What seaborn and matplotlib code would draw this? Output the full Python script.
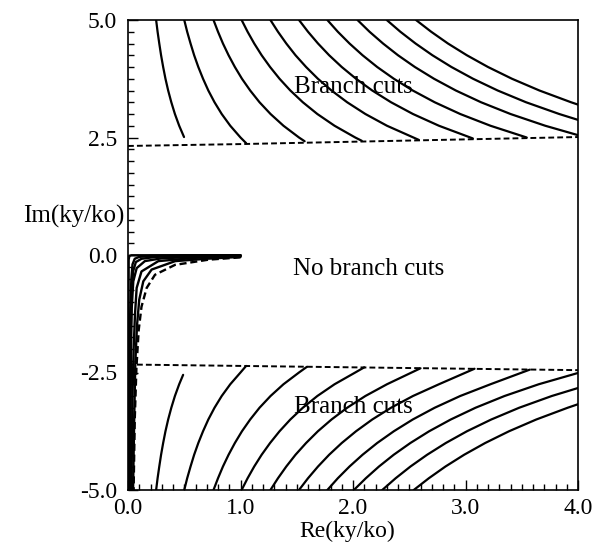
import numpy as np
import pandas as pd
import matplotlib
matplotlib.use("Agg")
import matplotlib.pyplot as plt
import seaborn as sns

# ---------------- data ----------------
# upper family of branch-cut curves (Im > 0)
upper_x = [
    [0.25, 0.263, 0.278, 0.294, 0.3125, 0.333, 0.357, 0.385, 0.417, 0.455, 0.498],
    [0.50, 0.526, 0.556, 0.588, 0.625, 0.667, 0.714, 0.769, 0.833, 0.909, 1.0, 1.05],
    [0.76, 0.80, 0.844, 0.894, 0.95, 1.013, 1.086, 1.169, 1.267, 1.382, 1.52, 1.57],
    [1.01, 1.063, 1.122, 1.188, 1.263, 1.347, 1.443, 1.554, 1.683, 1.836, 2.02, 2.078],
    [1.266, 1.333, 1.407, 1.489, 1.583, 1.688, 1.809, 1.948, 2.11, 2.302, 2.584],
    [1.52, 1.60, 1.689, 1.788, 1.90, 2.027, 2.171, 2.338, 2.533, 2.764, 3.065],
    [1.772, 1.865, 1.969, 2.085, 2.215, 2.363, 2.531, 2.726, 2.953, 3.222, 3.544],
    [2.04, 2.147, 2.267, 2.40, 2.55, 2.72, 2.914, 3.138, 3.40, 3.709, 4.0],
    [2.30, 2.421, 2.556, 2.706, 2.875, 3.067, 3.286, 3.538, 3.833, 4.0],
    [2.56, 2.695, 2.844, 3.012, 3.20, 3.413, 3.657, 3.938, 4.0],
]
upper_y = [
    [5.0, 4.75, 4.5, 4.25, 4.0, 3.75, 3.5, 3.25, 3.0, 2.75, 2.51],
    [5.0, 4.75, 4.5, 4.25, 4.0, 3.75, 3.5, 3.25, 3.0, 2.75, 2.5, 2.38],
    [5.0, 4.75, 4.5, 4.25, 4.0, 3.75, 3.5, 3.25, 3.0, 2.75, 2.5, 2.42],
    [5.0, 4.75, 4.5, 4.25, 4.0, 3.75, 3.5, 3.25, 3.0, 2.75, 2.5, 2.43],
    [5.0, 4.75, 4.5, 4.25, 4.0, 3.75, 3.5, 3.25, 3.0, 2.75, 2.45],
    [5.0, 4.75, 4.5, 4.25, 4.0, 3.75, 3.5, 3.25, 3.0, 2.75, 2.48],
    [5.0, 4.75, 4.5, 4.25, 4.0, 3.75, 3.5, 3.25, 3.0, 2.75, 2.50],
    [5.0, 4.75, 4.5, 4.25, 4.0, 3.75, 3.5, 3.25, 3.0, 2.75, 2.55],
    [5.0, 4.75, 4.5, 4.25, 4.0, 3.75, 3.5, 3.25, 3.0, 2.875],
    [5.0, 4.75, 4.5, 4.25, 4.0, 3.75, 3.5, 3.25, 3.2],
]
# lower family of branch-cut curves (Im < 0)
lower_x = [
    [0.25, 0.263, 0.278, 0.294, 0.3125, 0.333, 0.357, 0.385, 0.417, 0.455, 0.49],
    [0.50, 0.526, 0.556, 0.588, 0.625, 0.667, 0.714, 0.769, 0.833, 0.909, 1.0, 1.05],
    [0.76, 0.80, 0.844, 0.894, 0.95, 1.013, 1.086, 1.169, 1.267, 1.382, 1.52, 1.59],
    [1.01, 1.063, 1.122, 1.188, 1.263, 1.347, 1.443, 1.554, 1.683, 1.836, 2.02, 2.10],
    [1.266, 1.333, 1.407, 1.489, 1.583, 1.688, 1.809, 1.948, 2.11, 2.302, 2.60],
    [1.52, 1.60, 1.689, 1.788, 1.90, 2.027, 2.171, 2.338, 2.533, 2.764, 3.08],
    [1.772, 1.865, 1.969, 2.085, 2.215, 2.363, 2.531, 2.726, 2.953, 3.222, 3.57],
    [2.008, 2.114, 2.231, 2.362, 2.51, 2.677, 2.869, 3.089, 3.347, 3.651, 4.0],
    [2.26, 2.379, 2.511, 2.659, 2.825, 3.013, 3.229, 3.477, 3.767, 4.0],
    [2.54, 2.674, 2.822, 2.988, 3.175, 3.387, 3.629, 3.908, 4.0],
]
lower_y = [
    [-5.0, -4.75, -4.5, -4.25, -4.0, -3.75, -3.5, -3.25, -3.0, -2.75, -2.55],
    [-5.0, -4.75, -4.5, -4.25, -4.0, -3.75, -3.5, -3.25, -3.0, -2.75, -2.5, -2.36],
    [-5.0, -4.75, -4.5, -4.25, -4.0, -3.75, -3.5, -3.25, -3.0, -2.75, -2.5, -2.38],
    [-5.0, -4.75, -4.5, -4.25, -4.0, -3.75, -3.5, -3.25, -3.0, -2.75, -2.5, -2.39],
    [-5.0, -4.75, -4.5, -4.25, -4.0, -3.75, -3.5, -3.25, -3.0, -2.75, -2.41],
    [-5.0, -4.75, -4.5, -4.25, -4.0, -3.75, -3.5, -3.25, -3.0, -2.75, -2.42],
    [-5.0, -4.75, -4.5, -4.25, -4.0, -3.75, -3.5, -3.25, -3.0, -2.75, -2.44],
    [-5.0, -4.75, -4.5, -4.25, -4.0, -3.75, -3.5, -3.25, -3.0, -2.75, -2.51],
    [-5.0, -4.75, -4.5, -4.25, -4.0, -3.75, -3.5, -3.25, -3.0, -2.83],
    [-5.0, -4.75, -4.5, -4.25, -4.0, -3.75, -3.5, -3.25, -3.175],
]
# curves near the origin (solid)
origin_x = [
    [1.0, 0.03, 0.012, 0.006, 0.005, 0.005],
    [1.0, 0.5, 0.2, 0.1, 0.06, 0.04, 0.03, 0.02, 0.015, 0.012],
    [1.0, 0.5, 0.25, 0.12, 0.07, 0.045, 0.035, 0.025, 0.02, 0.016],
    [1.0, 0.6, 0.3, 0.15, 0.077, 0.047, 0.033, 0.027, 0.022, 0.02],
    [1.0, 0.6, 0.27, 0.12, 0.077, 0.062, 0.05, 0.04, 0.035, 0.03],
    [1.0, 0.7, 0.42, 0.21, 0.136, 0.10, 0.08, 0.065, 0.055, 0.045],
]
origin_y = [
    [-0.004, -0.006, -0.02, -0.1, -1.0, -5.0],
    [-0.005, -0.01, -0.02, -0.04, -0.08, -0.2, -0.5, -1.2, -2.5, -5.0],
    [-0.01, -0.02, -0.04, -0.08, -0.15, -0.35, -0.7, -1.5, -3.0, -5.0],
    [-0.02, -0.04, -0.07, -0.13, -0.28, -0.56, -1.13, -2.0, -3.5, -5.0],
    [-0.03, -0.06, -0.13, -0.35, -0.70, -1.27, -2.0, -3.0, -4.0, -5.0],
    [-0.04, -0.08, -0.13, -0.31, -0.56, -0.95, -1.5, -2.3, -3.5, -5.0],
]
# dashed curve near the origin
origin_dash_x = [1.0, 0.714, 0.418, 0.24, 0.166, 0.12, 0.095, 0.075, 0.06, 0.05]
origin_dash_y = [-0.05, -0.10, -0.21, -0.42, -0.70, -1.1, -1.6, -2.4, -3.5, -5.0]
# dashed boundaries
bound_x = [0.0, 1.0, 2.0, 3.0, 4.0]
bound_upper_y = [2.32, 2.36, 2.41, 2.46, 2.51]
bound_lower_y = [-2.33, -2.36, -2.39, -2.42, -2.45]

# region labels
region_text = ["Branch cuts", "No branch cuts", "Branch cuts"]
region_x = [2.0, 2.14, 2.0]
region_y = [3.58, -0.30, -3.23]

x_ticks = [0.0, 1.0, 2.0, 3.0, 4.0]
x_ticklabels = ["0.0", "1.0", "2.0", "3.0", "4.0"]
y_ticks = [-5.0, -2.5, 0.0, 2.5, 5.0]
y_ticklabels = ["-5.0", "-2.5", "0.0", "2.5", "5.0"]

# ---------------- drawing ----------------
sns.set_theme(style="ticks")
plt.rcParams["font.family"] = ["Liberation Serif", "DejaVu Serif"]
plt.rcParams["font.size"] = 17
plt.rcParams["text.color"] = "black"
plt.rcParams["axes.labelcolor"] = "black"

fig = plt.figure(figsize=(6.0, 5.47), dpi=100)
ax = fig.add_axes([128 / 600, 57 / 547, 450 / 600, 470 / 547])

def draw(xs, ys, dashed=False, lw=1.6):
    sns.lineplot(x=xs, y=ys, ax=ax, sort=False, estimator=None, color="black",
                 lw=lw, linestyle=(0, (3, 1.6)) if dashed else "-")

for xs, ys in zip(upper_x, upper_y):
    draw(xs, ys)
for xs, ys in zip(lower_x, lower_y):
    draw(xs, ys)
for xs, ys in zip(origin_x, origin_y):
    draw(xs, ys, lw=1.7)
draw(origin_dash_x, origin_dash_y, dashed=True, lw=1.7)
draw(bound_x, bound_upper_y, dashed=True, lw=1.4)
draw(bound_x, bound_lower_y, dashed=True, lw=1.4)

for t, xx, yy in zip(region_text, region_x, region_y):
    ax.text(xx, yy, t, ha="center", va="center", fontsize=18, color="black")

ax.set_xlim(0, 4)
ax.set_ylim(-5, 5)
ax.set_xticks(x_ticks)
ax.set_xticklabels(x_ticklabels)
ax.set_yticks(y_ticks)
ax.set_yticklabels(y_ticklabels)
ax.xaxis.set_minor_locator(matplotlib.ticker.MultipleLocator(0.1))
ax.yaxis.set_minor_locator(matplotlib.ticker.MultipleLocator(0.25))
ax.tick_params(which="both", direction="in", top=False, right=False,
               colors="black", labelsize=17, width=1.0)
ax.tick_params(axis="x", which="major", length=7, pad=6)
ax.tick_params(axis="y", which="major", length=7, pad=8)
ax.tick_params(which="minor", length=4)
for s in ax.spines.values():
    s.set_visible(True)
    s.set_linewidth(1.2)
    s.set_color("black")

ax.set_xlabel("Re(ky/ko)", fontsize=17, labelpad=0, color="black")
ax.set_ylabel("Im(ky/ko)", fontsize=18, rotation=0, ha="right", va="center",
              color="black")
ax.yaxis.set_label_coords(-0.008, 0.581)
ax.xaxis.set_label_coords(0.487, -0.066)

fig.savefig("out.png", dpi=100, facecolor="white")
